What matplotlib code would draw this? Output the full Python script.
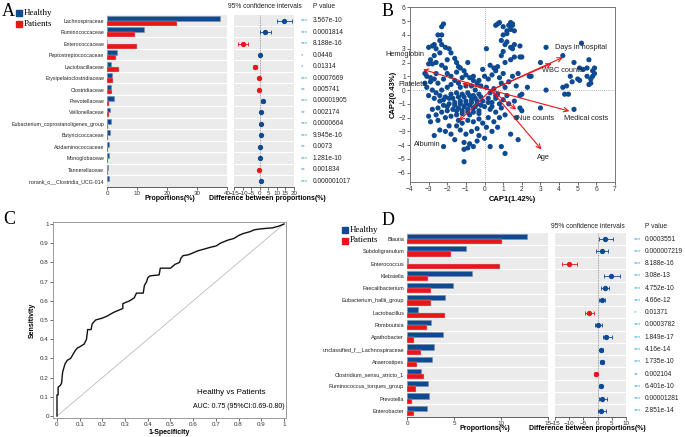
import numpy as np
import matplotlib.pyplot as plt

plt.rcParams['font.family'] = ['Liberation Sans', 'DejaVu Sans']

# colours
blue = '#0d4a91'
red = '#e8151b'
starCol = '#45a9e0'
band = '#ebebeb'

# ---------------- data: panel A (family level) ----------------
famNames = ["Lachnospiraceae", "Ruminococcaceae", "Enterococcaceae", "Peptostreptococcaceae",
            "Lactobacillaceae", "Erysipelatoclostridiaceae", "Clostridiaceae", "Prevotellaceae",
            "Veillonellaceae", "Eubacterium_coprostanoligenes_group", "Butyricicoccaceae",
            "Acidaminococcaceae", "Monoglobaceae", "Tannerellaceae", "norank_o__Clostridia_UCG-014"]
famHealthy = [37.5, 12.4, 0.1, 3.3, 1.2, 1.5, 1.4, 2.4, 1.0, 1.2, 1.0, 0.7, 0.6, 0.3, 0.6]
famPatients = [23.3, 9.2, 10.0, 3.0, 4.1, 2.0, 1.8, 0.6, 0.5, 0.3, 0.3, 0.3, 0.3, 0.4, 0.1]
famDiff = [14.1, 3.2, -9.9, 0.3, -2.9, -0.7, -0.6, 1.8, 0.5, 0.9, 0.7, 0.4, 0.3, -0.2, 0.5]
famLow = [9.9, 0.2, -12.8, -0.3, -4.2, -1.2, -1.1, 0.9, 0.1, 0.5, 0.4, 0.1, 0.1, -0.4, 0.2]
famHigh = [18.9, 6.3, -7.0, 0.9, -1.6, -0.2, -0.1, 2.7, 0.9, 1.3, 1.0, 0.7, 0.5, 0.0, 0.8]
famStars = ["***", "***", "***", "*", "*", "***", "**", "***", "**", "***", "***", "**", "***", "**", "***"]
famP = ["3.567e-10", "0.0001814", "8.188e-16", "0.0446", "0.01314", "0.0007669", "0.005741",
        "0.00001905", "0.002174", "0.0000664", "9.945e-16", "0.0073", "1.281e-10", "0.001834",
        "0.000001017"]

# ---------------- data: panel D (genus level) ----------------
genNames = ["Blautia", "Subdoligranulum", "Enterococcus", "Klebsiella", "Faecalibacterium",
            "Eubacterium_hallii_group", "Lactobacillus", "Romboutsia", "Agathobacter",
            "unclassified_f__Lachnospiraceae", "Anaerostipes", "Clostridium_sensu_stricto_1",
            "Ruminococcus_torques_group", "Prevotella", "Enterobacter"]
genHealthy = [12.8, 6.3, 0.1, 6.9, 4.9, 4.0, 1.2, 2.55, 3.8, 2.9, 2.65, 1.5, 2.2, 2.35, 2.1]
genPatients = [10.1, 4.7, 9.9, 2.2, 2.5, 2.55, 4.0, 2.15, 0.75, 1.5, 1.1, 1.8, 1.0, 0.55, 0.75]
genDiff = [2.7, 1.7, -10.0, 4.6, 2.5, 1.5, -2.9, 0.1, 3.0, 1.3, 1.5, -0.6, 1.1, 1.7, 1.3]
genLow = [0.4, -0.5, -12.4, 2.1, 1.3, 0.4, -4.4, -0.8, 1.9, 0.8, 0.7, -1.1, 0.5, 0.4, 0.3]
genHigh = [5.5, 3.7, -7.4, 7.9, 3.9, 2.7, -1.2, 1.5, 5.0, 1.8, 2.3, -0.1, 1.7, 3.2, 3.0]
genStars = ["***", "***", "***", "***", "***", "***", "*", "***", "***", "***", "***", "**", "***", "***", "***"]
genP = ["0.0003551", "0.000007219", "8.188e-16", "3.08e-13", "4.752e-10", "4.66e-12", "0.01371",
        "0.0003782", "1.849e-17", "4.16e-14", "1.735e-10", "0.002104", "6.401e-10", "0.00001281",
        "2.851e-14"]

# ---------------- data: panel B (CAP ordination) ----------------
capX = [-2.2, -2.3, -2.5, -2.3, -2.4, -2.3, -2.7, -3.0, -2.8, -2.6, -2.1, -1.9, -1.8, -2.0, -2.4,
        -2.7, -2.9, -3.0, -2.8, -2.6, -2.3, -2.1, -1.6, -1.5, -1.3, -1.5, -1.1, -0.9, -1.4, -3.2,
        -3.1, -2.9, -2.6, -2.7, -2.9, -3.2, -3.1, -2.8, -2.5, -2.2, -2.0, -1.8, -1.6, -1.4, -1.2,
        -1.0, -0.8, -0.6, -0.4, -1.8, -2.0, -2.3, -2.6, -1.3, -1.0, -0.7, -0.2, -0.5, 0.1, -0.6,
        -0.3,
        -3.0, -2.7, -2.4, -2.1, -1.8, -1.5, -1.2, -0.9, -0.6, -0.3, -2.8, -2.5, -2.2, -1.9, -1.6,
        -1.3, -1.0, -0.7, -0.4, -2.6, -2.3, -2.0, -1.7, -1.4, -1.1, -0.8, -0.5, -0.2, -2.9, -2.5,
        -2.1, -1.8, -1.5, -1.2, -0.9, -0.6, -0.3, -2.4, -2.1, -1.8, -2.7, -1.5, -1.2, -0.9, -0.6,
        -0.3, -1.3, -1.0, -0.7, -0.4, -1.6, -1.1, -0.8, -0.6, -0.4, -0.9, -1.1, -2.2, -1.1, -0.3,
        -1.4, -1.9, -3.0,
        0.1, 0.3, 0.5, 0.7, 0.9, 1.1, 0.2, 0.4, 0.6, 0.8, 1.0, 1.2, 0.0, 0.3, 0.6, 0.9, 1.3, 1.6,
        0.2, 0.5, 0.8, 1.1, 0.1, 0.4, 0.7, 0.0, 0.3, 0.9, 1.1, 1.4, 1.7, 1.9, 1.8, 2.0, 0.2, 0.4,
        0.6, 0.8, 1.0, 1.3, 1.5, 1.7, 2.0, 2.3, 0.0, 0.3, 0.7, 0.5, 1.1, 1.4, 1.9, 1.8, 2.5, 0.9,
        -0.1,
        0.7, 0.8, 0.6, 1.0, 1.3, 1.4, 1.5, 1.5, 1.2, 1.0, 1.2, 1.4, 1.6, 0.9, 1.2, 1.5, 1.6, 1.4,
        1.9, 1.0, 1.1, 1.6, 2.0,
        3.3, 5.2, 4.2, 3.0, 4.8, 5.6, 5.5, 5.9, 5.8, 5.5, 5.3, 5.1, 5.9, 5.7, 5.1, 5.7, 5.6, 4.6,
        4.7, 4.4, 4.2, 4.3, 4.5, 5.0, 5.8, 3.3, 2.4, 1.9, 3.0, 4.8,
        -1.7, -1.4, -1.1, -0.8, -0.5, -0.2, -1.6, -1.3, -1.0, -0.7, -0.4, -0.1, -2.2, -1.9, -0.9,
        -0.6, -1.2, -0.3, 0.2, -0.8, -1.5, -2.0, -2.4, -0.1, 0.4, 0.6]
capY = [4.8, 4.6, 4.0, 4.0, 3.6, 3.3, 3.3, 3.1, 3.2, 3.0, 3.1, 3.0, 2.7, 2.2, 2.7,
        2.5, 2.2, 1.9, 1.9, 2.0, 1.8, 1.6, 2.3, 2.0, 1.6, 1.3, 1.4, 2.0, 1.7, 1.2,
        1.0, 0.9, 1.2, 0.8, 0.6, 0.5, 0.2, 0.0, 0.5, 0.8, 1.2, 1.0, 0.7, 0.5, 0.9,
        1.1, 0.9, 0.7, 0.5, 0.4, 0.2, 0.0, -0.2, 0.2, 0.3, 0.3, 0.3, 0.0, 3.0, 1.0,
        0.7,
        -0.4, -0.6, -0.8, -0.5, -0.3, -0.2, -0.3, -0.2, -0.4, -0.3, -1.4, -1.3, -1.1, -1.0, -0.9,
        -0.8, -0.8, -0.7, -0.8, -1.8, -1.6, -1.5, -1.4, -1.3, -1.2, -1.1, -1.2, -1.1, -2.3, -2.2,
        -2.0, -1.9, -1.8, -1.7, -1.6, -1.6, -1.5, -2.9, -3.0, -3.2, -3.3, -2.6, -2.4, -2.2, -2.3,
        -2.1, -2.9, -3.2, -3.0, -2.8, -3.6, -3.8, -3.9, -4.1, -3.7, -4.2, -4.3, -4.1, -5.2, -3.3,
        -2.2, -2.6, -1.9,
        0.2, -0.2, 0.1, -0.3, 0.5, 0.2, -0.6, -0.9, -0.6, -1.0, -0.7, -0.4, -1.2, -1.4, -1.6, -1.3,
        -1.0, -0.8, -2.0, -2.3, -2.0, -1.8, -2.7, -3.0, -2.7, -3.5, -4.1, -4.1, -4.6, -3.2, -2.0,
        -1.3, -3.6, -1.5, 0.8, 1.1, 1.4, 0.9, 1.2, 0.6, 1.0, 0.3, -0.3, 0.2, 1.0, 1.8, 1.7, 1.6,
        2.0, 2.2, 2.4, 1.2, 1.0, 2.5, 1.5,
        4.8, 4.9, 4.7, 4.6, 4.7, 4.9, 4.7, 4.8, 4.3, 4.0, 4.1, 4.4, 4.3, 3.6, 3.5, 3.0, 3.3, 3.1,
        3.2, 2.8, 3.3, 2.4, 2.4,
        3.1, 3.4, 2.5, 2.0, 2.0, 2.2, 1.6, 1.6, 1.4, 1.0, 1.5, 1.6, 1.2, 0.8, 0.7, 0.5, 0.4, 1.0,
        0.6, 0.3, 0.2, -0.3, -0.3, 0.8, 1.0, 0.0, 1.0, -0.4, -1.3, -1.4,
        -0.6, -0.5, -0.5, -0.4, -0.6, -0.5, -1.1, -1.0, -1.0, -0.9, -1.0, -0.8, -0.7, -0.6, -1.4,
        -1.3, -1.5, -1.7, -0.9, -1.8, -1.5, -1.2, -0.4, -2.4, -1.2, -0.4]

arrowNames = ["Hemoglobin", "Platelets", "Days in hospital", "WBC counts", "Medical costs",
              "Nue counts", "Age", "Albumin"]
arrowX = [-3.3, -1.2, 4.2, 3.6, 4.55, 1.7, 3.05, -1.37]
arrowY = [1.5, 0.5, 2.37, 1.93, -1.53, -1.41, -4.31, -2.23]
arrowOrigin = (0.35, 0.0)
labelX = [-5.3, -4.6, 3.78, 3.07, 4.27, 1.72, 2.8, -3.79]
labelY = [2.6, 0.4, 3.07, 1.4, -2.09, -2.09, -4.9, -3.93]

# ---------------- data: panel C (ROC) ----------------
rocFpr = [0, 0, 0.005, 0.005, 0.015, 0.02, 0.025, 0.035, 0.045, 0.06, 0.07, 0.08, 0.09, 0.1,
          0.12, 0.13, 0.135, 0.15, 0.155, 0.17, 0.2, 0.22, 0.25, 0.27, 0.29, 0.29, 0.32, 0.34,
          0.35, 0.38, 0.385, 0.395, 0.40, 0.41, 0.45, 0.455, 0.5, 0.52, 0.54, 0.545, 0.555, 0.58,
          0.6, 0.62, 0.65, 0.68, 0.70, 0.72, 0.75, 0.78, 0.8, 0.82, 0.85, 0.87, 0.9, 0.95, 0.98, 1]
rocTpr = [0, 0.11, 0.11, 0.15, 0.16, 0.17, 0.23, 0.27, 0.29, 0.30, 0.32, 0.34, 0.355, 0.36,
          0.375, 0.40, 0.45, 0.45, 0.48, 0.50, 0.51, 0.52, 0.54, 0.55, 0.56, 0.585, 0.60, 0.615,
          0.64, 0.64, 0.68, 0.70, 0.72, 0.73, 0.735, 0.77, 0.77, 0.79, 0.80, 0.82, 0.835, 0.84,
          0.85, 0.86, 0.87, 0.88, 0.885, 0.90, 0.915, 0.925, 0.94, 0.95, 0.96, 0.97, 0.975, 0.98,
          0.99, 1]

W, H = 685, 437
fig = plt.figure(figsize=(6.85, 4.37), dpi=100)


def ax_px(x0, y0, x1, y1):
    return fig.add_axes([x0 / W, 1 - y1 / H, (x1 - x0) / W, (y1 - y0) / H])


def comparison(barBox, ciBox, names, healthy, patients, diff, low, high, stars, pvals,
               xmax, barTicks, ciLim, ciTicks, starX, pX, headX, headY, propX, diffX, labSize):
    n = len(names)
    y = np.arange(n)
    ax = ax_px(*barBox)
    for i in y:
        ax.axhspan(i - 0.46, i + 0.46, color=band, lw=0, zorder=0)
    ax.barh(y - 0.215, healthy, height=0.43, color=blue, edgecolor='#7f8fa8', lw=0.4, zorder=2)
    ax.barh(y + 0.215, patients, height=0.43, color=red, edgecolor='#c0c0c0', lw=0.3, zorder=2)
    ax.set_ylim(n - 0.5, -0.5)
    ax.set_xlim(0, xmax)
    ax.set_yticks(y)
    ax.set_yticklabels(names, fontsize=labSize, color='#222222')
    ax.tick_params(axis='y', length=0, pad=2)
    ax.set_xticks(barTicks)
    ax.tick_params(axis='x', labelsize=4.5, length=2, width=0.5, pad=1, colors='#333333')
    for s in ['top', 'right', 'left']:
        ax.spines[s].set_visible(False)
    ax.spines['bottom'].set_linewidth(0.6)
    ax.spines['bottom'].set_color('#444444')
    ax.set_xlabel('Proportions(%)', fontsize=5, fontweight='bold', labelpad=2)
    ax.xaxis.set_label_coords(propX, -0.045)

    cx = ax_px(*ciBox)
    for i in y:
        cx.axhspan(i - 0.46, i + 0.46, color=band, lw=0, zorder=0)
    cx.axvline(0, color='#888888', lw=0.6, ls=(0, (1, 1)), zorder=1)
    for i in y:
        c = blue if diff[i] > 0 else red
        cx.errorbar(diff[i], i, xerr=[[diff[i] - low[i]], [high[i] - diff[i]]], fmt='o',
                    color=c, ms=2.8, elinewidth=0.6, capsize=1.2, capthick=0.6, zorder=3)
    cx.set_ylim(n - 0.5, -0.5)
    cx.set_xlim(*ciLim)
    cx.set_xticks(ciTicks)
    cx.set_yticks([])
    cx.tick_params(axis='x', labelsize=4.5, length=2, width=0.5, pad=1, colors='#333333')
    for s in ['top', 'right', 'left']:
        cx.spines[s].set_visible(False)
    cx.spines['bottom'].set_linewidth(0.6)
    cx.spines['bottom'].set_color('#444444')
    cx.set_xlabel('Difference between proportions(%)', fontsize=5, fontweight='bold')
    cx.xaxis.set_label_coords(diffX, -0.045)
    tr = cx.get_yaxis_transform()
    for i in y:
        cx.text(starX, i, stars[i], transform=tr, fontsize=4.5, color=starCol,
                ha='left', va='center', clip_on=False)
        cx.text(pX, i, pvals[i], transform=tr, fontsize=4.8, color='#222222',
                ha='left', va='center', clip_on=False)
    cx.text(headX, headY, '95% confidence intervals', transform=cx.transAxes,
            fontsize=4.8, ha='center', va='center', color='#222222')
    cx.text(pX, headY, 'P value', transform=cx.transAxes, fontsize=4.8,
            ha='left', va='center', color='#222222')
    return ax, cx


# ---------------- panel A ----------------
comparison((107, 15, 227, 187), (234, 15, 294, 187), famNames, famHealthy, famPatients,
           famDiff, famLow, famHigh, famStars, famP, 40, [0, 10, 20, 30, 40], (-15, 20),
           [-15, -10, -5, 0, 5, 10, 15, 20], 1.12, 1.317, 0.52, 1.047, 0.525, 0.55, 3.8)

# ---------------- panel D ----------------
comparison((407, 233, 548, 417), (555, 233, 626, 417), genNames, genHealthy, genPatients,
           genDiff, genLow, genHigh, genStars, genP, 15, [0, 5, 10, 15], (-15, 10),
           [-15, -10, -5, 0, 5, 10], 1.11, 1.268, 0.46, 1.038, 0.553, 0.46, 4.0)

# legends (A and D)
for lx, ly in [(16, 10), (342, 227)]:
    fig.patches.append(plt.Rectangle((lx / W, 1 - (ly + 6) / H), 6 / W, 6 / H,
                                     transform=fig.transFigure, color=blue))
    fig.patches.append(plt.Rectangle((lx / W, 1 - (ly + 16.5) / H), 6 / W, 6 / H,
                                     transform=fig.transFigure, color=red))
    fig.text((lx + 8) / W, 1 - (ly + 3) / H, 'Healthy', family='Liberation Serif',
             fontsize=6.5, va='center')
    fig.text((lx + 8) / W, 1 - (ly + 13.5) / H, 'Patients', family='Liberation Serif',
             fontsize=6.5, va='center')

# ---------------- panel B ----------------
bx = ax_px(410, 6.7, 615, 181.7)
bx.axvline(0, color='#999999', lw=0.6, ls=(0, (1, 1.5)), zorder=1)
bx.axhline(0, color='#999999', lw=0.6, ls=(0, (1, 1.5)), zorder=1)
bx.scatter(capX, capY, s=14, color=blue, edgecolors='none', zorder=2)
for i in range(len(arrowNames)):
    bx.annotate('', xy=(arrowX[i], arrowY[i]), xytext=arrowOrigin,
                arrowprops=dict(arrowstyle='->', color=red, lw=0.8, mutation_scale=8,
                                shrinkA=0, shrinkB=0), zorder=3)
    bx.text(labelX[i], labelY[i], arrowNames[i], fontsize=5.3, color='#222222',
            ha='left', va='center', clip_on=False, zorder=4)
bx.set_xlim(-4, 7)
bx.set_ylim(-6.65, 6.05)
bx.set_xticks(range(-4, 8))
bx.set_yticks(range(-6, 7))
bx.tick_params(labelsize=4.8, length=2, width=0.5, pad=1, colors='#333333')
for s in bx.spines.values():
    s.set_color('#777777')
    s.set_linewidth(0.7)
bx.set_xlabel('CAP1(1.42%)', fontsize=5.5, fontweight='bold', labelpad=2)
bx.set_ylabel('CAP2(0.43%)', fontsize=5.5, fontweight='bold', labelpad=1)

# ---------------- panel C ----------------
rx = ax_px(53, 222, 286, 418)
rx.plot([0, 1], [0, 1], color='#bbbbbb', lw=0.6)
rx.plot(rocFpr, rocTpr, color='#111111', lw=1.0)
rx.set_xlim(-0.0176, 1.0088)
rx.set_ylim(-0.0104, 1.0104)
ticks = [0, 0.1, 0.2, 0.3, 0.4, 0.5, 0.6, 0.7, 0.8, 0.9, 1]
tl = ['0', '0.1', '0.2', '0.3', '0.4', '0.5', '0.6', '0.7', '0.8', '0.9', '1']
rx.set_xticks(ticks)
rx.set_xticklabels(tl)
rx.set_yticks(ticks)
rx.set_yticklabels(tl)
rx.tick_params(labelsize=4.5, length=2, width=0.5, pad=1, colors='#333333')
for s in rx.spines.values():
    s.set_color('#999999')
    s.set_linewidth(0.7)
rx.set_xlabel('1-Specificity', fontsize=5, fontweight='bold', labelpad=1)
rx.set_ylabel('Sensitivity', fontsize=5, fontweight='bold', labelpad=3)
rx.text(0.766, 0.12, 'Healthy vs Patients', fontsize=5.8, ha='center', va='center')
rx.text(0.80, 0.047, 'AUC: 0.75 (95%CI:0.69-0.80)', fontsize=5, ha='center', va='center')

# panel letters
for letter, x, y in [('A', 2, 11), ('B', 382, 11), ('C', 3, 219), ('D', 382, 220)]:
    fig.text(x / W, 1 - y / H, letter, family='Liberation Serif', fontsize=13, va='center')

fig.savefig('out.png', dpi=100)
